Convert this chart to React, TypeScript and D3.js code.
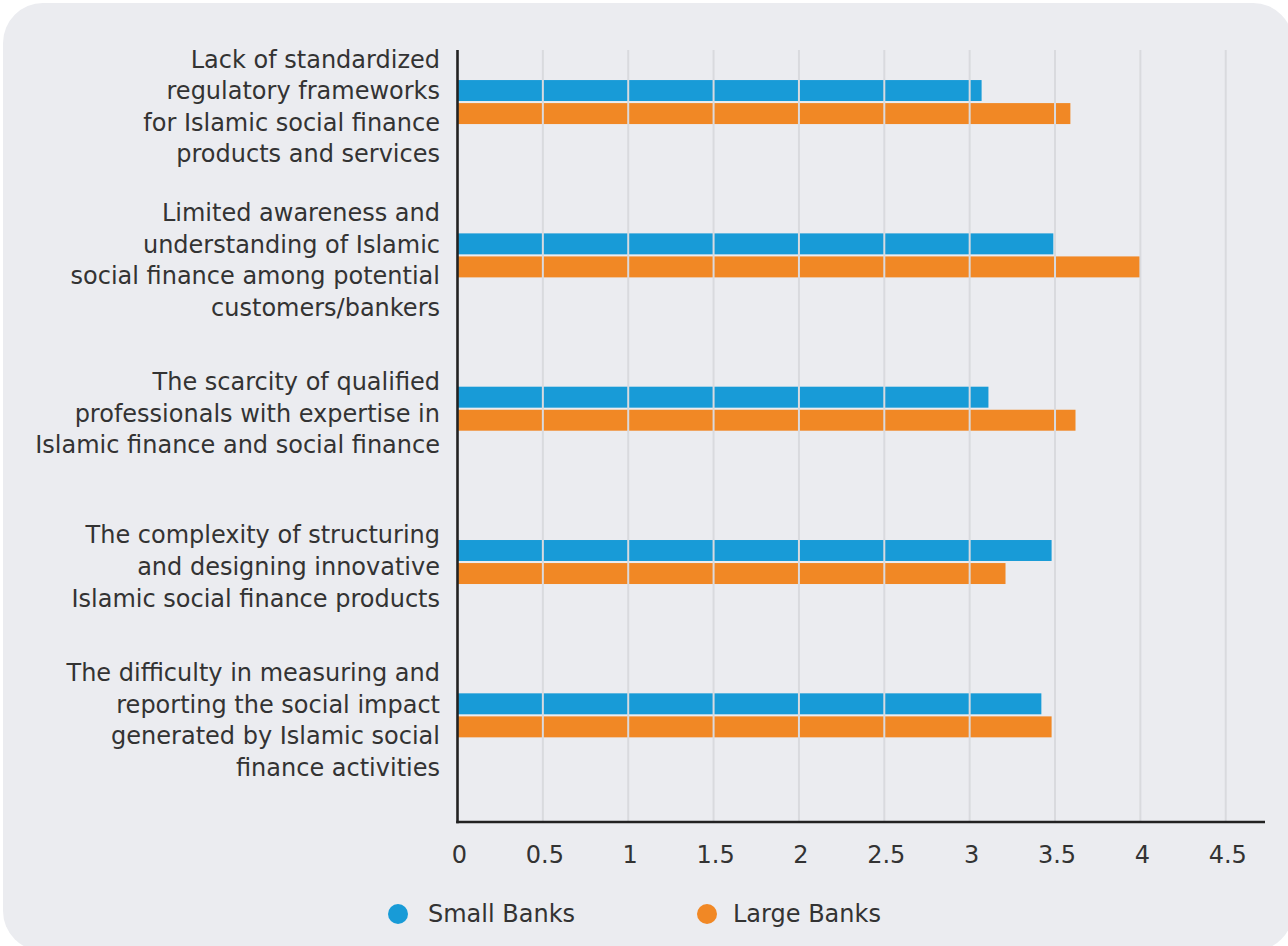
import React from "react";
import * as d3 from "d3";

const categories = [
  "Lack of standardized regulatory frameworks for Islamic social finance products and services",
  "Limited awareness and understanding of Islamic social finance among potential customers/bankers",
  "The scarcity of qualified professionals with expertise in Islamic finance and social finance",
  "The complexity of structuring and designing innovative Islamic social finance products",
  "The difficulty in measuring and reporting the social impact generated by Islamic social finance activities",
];
const categoryLines = [
  ["Lack of standardized", "regulatory frameworks", "for Islamic social finance", "products and services"],
  ["Limited awareness and", "understanding of Islamic", "social finance among potential", "customers/bankers"],
  ["The scarcity of qualified", "professionals with expertise in", "Islamic finance and social finance"],
  ["The complexity of structuring", "and designing innovative", "Islamic social finance products"],
  ["The difficulty in measuring and", "reporting the social impact", "generated by Islamic social", "finance activities"],
];
const seriesNames = ["Small Banks", "Large Banks"];
const smallBanks = [3.07, 3.49, 3.11, 3.48, 3.42];
const largeBanks = [3.59, 4.0, 3.62, 3.21, 3.48];
const xTicks = [0, 0.5, 1, 1.5, 2, 2.5, 3, 3.5, 4, 4.5];
const colors = ["#189bd7", "#f18825"];

const W = 1288;
const H = 946;
const FONT = "'DejaVu Sans', Verdana, sans-serif";
const TEXT = "#333333";
const FS = 24;

export default function App() {
  const x0 = 457.5;
  const xMax = 4.73;
  const x = d3.scaleLinear().domain([0, xMax]).range([x0, 1265]);
  const y = d3.scaleBand<string>().domain(categories).range([25.4, 792]).paddingInner(0);
  const ySub = d3.scaleBand<string>().domain(seriesNames).range([-22, 22]).paddingInner(0.09);
  const values = [smallBanks, largeBanks];
  const axisTop = 50;
  const axisBottom = 822;
  const lineH = 31.6;
  const legendX = [398, 707];
  const legendTextX = [428, 733];

  return (
    <svg width={W} height={H} style={{ position: "absolute", left: 0, top: 0 }} fontFamily={FONT}>
      <rect x={0} y={0} width={W} height={H} fill="#ffffff" />
      <rect x={3} y={3} width={W + 2} height={H + 2} rx={40} ry={40} fill="#ebecf0" />
      {/* bars */}
      {categories.map((c, i) => {
        const cy = (y(c) as number) + y.bandwidth() / 2;
        return (
          <g key={c}>
            {seriesNames.map((s, k) => (
              <rect
                key={s}
                x={x(0)}
                y={cy + (ySub(s) as number)}
                width={x(values[k][i]) - x(0)}
                height={ySub.bandwidth()}
                fill={colors[k]}
              />
            ))}
          </g>
        );
      })}
      {/* gridlines */}
      {xTicks.filter((t) => t > 0).map((t) => (
        <line key={t} x1={x(t)} x2={x(t)} y1={axisTop} y2={axisBottom} stroke="#d9dade" strokeWidth={2} />
      ))}
      {/* axes */}
      <line x1={x0} x2={x0} y1={axisTop} y2={axisBottom + 1.3} stroke="#222" strokeWidth={2.6} />
      <line x1={x0 - 1.3} x2={x(xMax)} y1={axisBottom} y2={axisBottom} stroke="#222" strokeWidth={2.6} />
      {/* tick labels */}
      {xTicks.map((t) => (
        <text key={t} x={x(t) + 2} y={855} textAnchor="middle" dominantBaseline="central" fontSize={FS} fill={TEXT}>
          {String(t)}
        </text>
      ))}
      {/* category labels */}
      {categories.map((c, i) => {
        const cy = (y(c) as number) + y.bandwidth() / 2 + 5;
        const lines = categoryLines[i];
        const start = cy - ((lines.length - 1) * lineH) / 2;
        return (
          <text key={c} textAnchor="end" fontSize={FS} fill={TEXT}>
            {lines.map((l, j) => (
              <tspan key={j} x={440} y={start + j * lineH} dominantBaseline="central">
                {l}
              </tspan>
            ))}
          </text>
        );
      })}
      {/* legend */}
      {seriesNames.map((s, k) => (
        <g key={s}>
          <circle cx={legendX[k]} cy={914} r={10} fill={colors[k]} />
          <text x={legendTextX[k]} y={914} dominantBaseline="central" fontSize={FS} fill={TEXT}>
            {s}
          </text>
        </g>
      ))}
    </svg>
  );
}
